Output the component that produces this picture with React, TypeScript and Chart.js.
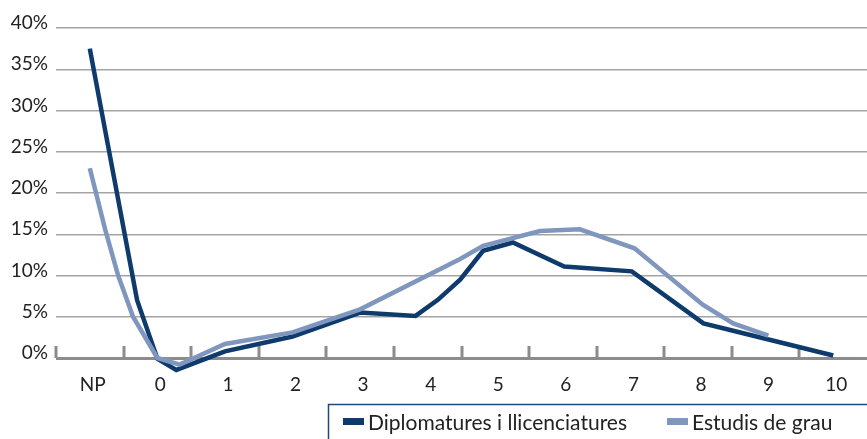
import { useEffect, useRef } from "react";
import { Chart, registerables } from "chart.js";

Chart.register(...registerables);

// Category axis (NP = no presentat, then marks 0..10)
const categoryLabels = ["NP", "0", "1", "2", "3", "4", "5", "6", "7", "8", "9", "10"];
const categoryValues = [-1, 0, 1, 2, 3, 4, 5, 6, 7, 8, 9, 10];
const tickBoundaries = [-1.5, -0.5, 0.5, 1.5, 2.5, 3.5, 4.5, 5.5, 6.5, 7.5, 8.5, 9.5];
const yTickValues = [0, 5, 10, 15, 20, 25, 30, 35, 40];

// Series: Diplomatures i llicenciatures
const diplomaturesX = [-1, -0.3, 0, 0.28, 1, 2, 3, 3.82, 4.15, 4.48, 4.82, 5.26, 6.02, 7.02, 8.08, 8.52, 10];
const diplomaturesY = [37.5, 7.0, -0.1, -1.45, 0.8, 2.6, 5.5, 5.1, 7.05, 9.5, 13.0, 14.0, 11.1, 10.5, 4.2, 3.3, 0.3];

// Series: Estudis de grau
const grauX = [-1, -0.77, -0.58, -0.36, 0, 0.33, 1, 2, 3, 4.48, 4.82, 5.66, 6.25, 7.06, 8.07, 8.52, 9.04];
const grauY = [23.0, 15.5, 10.0, 5.0, 0, -0.8, 1.7, 3.1, 5.9, 12.0, 13.6, 15.4, 15.6, 13.3, 6.45, 4.2, 2.7];

const seriesLabels = ["Diplomatures i llicenciatures", "Estudis de grau"];
const DARK = "#0e3a6c";
const LIGHT = "#7f97bf";
const FONT = "Lato";

const tickMarksPlugin = {
  id: "innerTickMarks",
  beforeDatasetsDraw(chart: any) {
    const ctx = chart.ctx;
    const xs = chart.scales.x;
    const bottom = chart.chartArea.bottom;
    ctx.save();
    ctx.strokeStyle = "#8c8c8c";
    ctx.lineWidth = 3;
    ctx.beginPath();
    tickBoundaries.forEach((b) => {
      const x = Math.round(xs.getPixelForValue(b));
      ctx.moveTo(x, bottom);
      ctx.lineTo(x, bottom - 12);
    });
    ctx.stroke();
    ctx.restore();
  },
};

const boxLegendPlugin = {
  id: "boxLegend",
  afterDraw(chart: any) {
    const ctx = chart.ctx;
    const left = 328.5;
    const top = 404.5;
    ctx.save();
    ctx.strokeStyle = "#23467a";
    ctx.lineWidth = 1.5;
    ctx.strokeRect(left, top, chart.width - left + 10, chart.height - top + 10);
    ctx.font = `21px ${FONT}`;
    ctx.textBaseline = "middle";
    ctx.textAlign = "left";
    let x = 343;
    const yMid = 423;
    [0, 1].forEach((i) => {
      const ds = chart.data.datasets[i];
      ctx.fillStyle = ds.borderColor;
      ctx.fillRect(x, yMid - 5, 21, 7);
      x += 25;
      ctx.fillStyle = "#222";
      ctx.fillText(ds.label, x, yMid);
      x += ctx.measureText(ds.label).width + 40;
    });
    ctx.restore();
  },
};

export default function App() {
  const canvasRef = useRef<HTMLCanvasElement | null>(null);

  useEffect(() => {
    document.body.style.margin = "0";
    const canvas = canvasRef.current;
    if (!canvas) return;
    const chart = new Chart(canvas, {
      type: "line",
      data: {
        datasets: [
          {
            label: seriesLabels[0],
            data: diplomaturesX.map((x, i) => ({ x, y: diplomaturesY[i] })),
            borderColor: DARK,
            backgroundColor: DARK,
            borderWidth: 4.5,
            pointRadius: 0,
            tension: 0,
            clip: false as any,
            order: 1,
          },
          {
            label: seriesLabels[1],
            data: grauX.map((x, i) => ({ x, y: grauY[i] })),
            borderColor: LIGHT,
            backgroundColor: LIGHT,
            borderWidth: 4.5,
            pointRadius: 0,
            tension: 0,
            clip: false as any,
            order: 0,
          },
        ],
      },
      options: {
        animation: false,
        responsive: true,
        maintainAspectRatio: false,
        layout: { padding: { top: 28, bottom: 35, left: 0, right: 0 } },
        plugins: {
          legend: { display: false },
          tooltip: { enabled: false },
        },
        scales: {
          x: {
            type: "linear",
            min: -1.5,
            max: 10.5,
            afterBuildTicks: (s: any) => {
              s.ticks = categoryValues.map((v) => ({ value: v }));
            },
            afterFit: (s: any) => {
              s.height = 46;
            },
            ticks: {
              callback: (v: any) => categoryLabels[categoryValues.indexOf(Number(v))],
              font: { family: FONT, size: 19 },
              color: "#222",
              padding: 7,
              labelOffset: 3,
              autoSkip: false,
              maxRotation: 0,
            },
            grid: { display: false },
            border: { display: false },
          },
          y: {
            min: 0,
            max: 40,
            afterBuildTicks: (s: any) => {
              s.ticks = yTickValues.map((v) => ({ value: v }));
            },
            afterFit: (s: any) => {
              s.width = 56;
            },
            ticks: {
              callback: (v: any) => `${v}%`,
              font: { family: FONT, size: 19 },
              color: "#222",
              padding: 8,
              labelOffset: -5,
            },
            grid: {
              color: (c: any) => (c.tick && c.tick.value === 0 ? "#8c8c8c" : "#a3a3a3"),
              lineWidth: (c: any) => (c.tick && c.tick.value === 0 ? 3 : 1.5),
              drawTicks: false,
            },
            border: { display: false },
          },
        },
      },
      plugins: [tickMarksPlugin, boxLegendPlugin],
    });
    return () => chart.destroy();
  }, []);

  return (
    <div style={{ position: "relative", width: 867, height: 439 }}>
      <canvas ref={canvasRef} />
    </div>
  );
}
